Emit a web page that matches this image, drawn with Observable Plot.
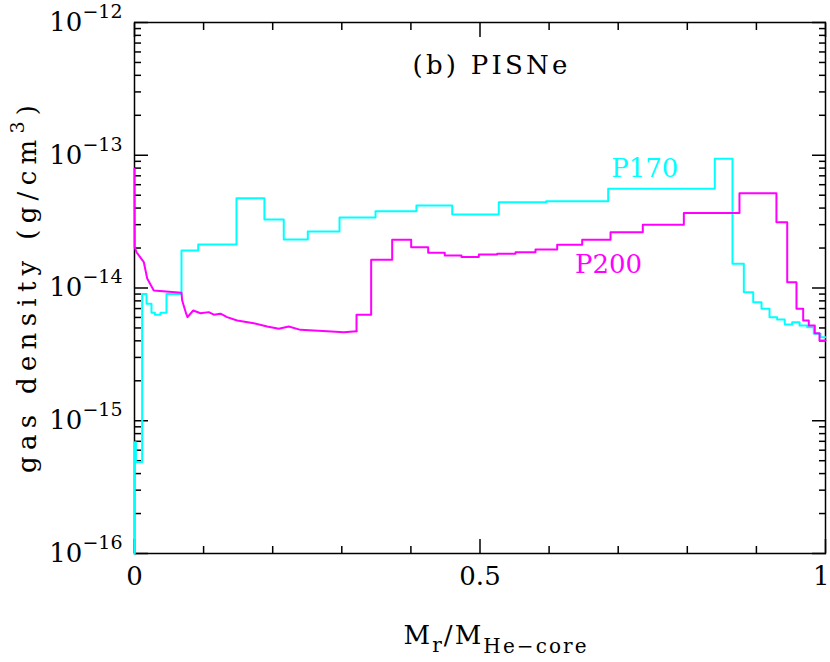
<!DOCTYPE html>
<html>
<head>
<meta charset="utf-8">
<script src="https://cdn.jsdelivr.net/npm/d3@7"></script>
<script src="https://cdn.jsdelivr.net/npm/@observablehq/plot@0.6"></script>
<style>
  html, body { margin: 0; padding: 0; background: #fff; }
</style>
</head>
<body>
<div id="chart"></div>
<script>
// P170 (cyan) — stepwise profile: x = Mr/M_He-core, y = gas density (g/cm^3)
const p170X = [0, 0.0004, 0.002, 0.0111, 0.0174, 0.0246, 0.0294, 0.0376, 0.0463, 0.068, 0.0922, 0.1476, 0.188, 0.216, 0.2508, 0.2967, 0.3488, 0.408, 0.4598, 0.5272, 0.5958, 0.6855, 0.8398, 0.8654, 0.8818, 0.8954, 0.9074, 0.919, 0.930, 0.941, 0.9518, 0.9624, 0.9735, 0.983, 0.9928, 1.0];
const p170Y = [1e-16, 6.9e-16, 4.9e-16, 9.0e-15, 7.6e-15, 6.5e-15, 6.3e-15, 6.5e-15, 9.0e-15, 1.92e-14, 2.13e-14, 4.75e-14, 3.28e-14, 2.32e-14, 2.67e-14, 3.4e-14, 3.79e-14, 4.18e-14, 3.58e-14, 4.43e-14, 4.51e-14, 5.59e-14, 9.4e-14, 1.52e-14, 9.3e-15, 7.8e-15, 6.97e-15, 6.03e-15, 5.79e-15, 5.31e-15, 5.52e-15, 5.22e-15, 5.07e-15, 4.52e-15, 4.26e-15, 4.26e-15];

// P200 (magenta) — inner smooth part
const p200aX = [0, 0.0003, 0.0029, 0.0135, 0.0184, 0.0279, 0.068, 0.069, 0.0748, 0.0767, 0.085, 0.0955, 0.1075, 0.1148, 0.1245, 0.134, 0.1486, 0.1726, 0.192, 0.2088, 0.2233, 0.2402, 0.2595, 0.2789, 0.3029, 0.3213];
const p200aY = [7.9e-14, 2.03e-14, 1.86e-14, 1.565e-14, 1.18e-14, 9.58e-15, 9.2e-15, 8.05e-15, 6.4e-15, 6.03e-15, 6.77e-15, 6.46e-15, 6.58e-15, 6.3e-15, 6.4e-15, 6.03e-15, 5.69e-15, 5.43e-15, 5.13e-15, 4.93e-15, 5.13e-15, 4.84e-15, 4.79e-15, 4.73e-15, 4.65e-15, 4.73e-15];
// P200 (magenta) — outer stepwise part
const p200bX = [0.3213, 0.3425, 0.3729, 0.4004, 0.425, 0.449, 0.4732, 0.4983, 0.5249, 0.5514, 0.5803, 0.6117, 0.6479, 0.6889, 0.7356, 0.795, 0.8755, 0.929, 0.9446, 0.958, 0.9677, 0.9758, 0.9845, 0.9913, 1.0];
const p200bY = [6.3e-15, 1.63e-14, 2.31e-14, 2.03e-14, 1.84e-14, 1.76e-14, 1.71e-14, 1.79e-14, 1.81e-14, 1.86e-14, 1.95e-14, 2.115e-14, 2.31e-14, 2.63e-14, 3.0e-14, 3.68e-14, 5.18e-14, 3.13e-14, 1.107e-14, 6.97e-15, 5.69e-15, 5.22e-15, 4.57e-15, 4.03e-15, 4.03e-15];

// Series labels
const seriesNames = ["P170", "P200"];
const seriesColors = ["#00ffff", "#ff00ff"];
const labelX = [0.7385, 0.686];
const labelY = [7.9e-14, 1.49e-14];

// Ticks
const yMajor = [1e-16, 1e-15, 1e-14, 1e-13, 1e-12];
const yMinor = [];
for (let e = -16; e < -12; e++) for (let m = 2; m <= 9; m++) yMinor.push(m * Math.pow(10, e));
const xMajor = [0, 0.5, 1];
const xMajorLabels = ["0", "0.5", "1"];
const xMinor = [0.1, 0.2, 0.3, 0.4, 0.6, 0.7, 0.8, 0.9];

const titleText = "(b) PISNe";
const yLabelText = "gas density (g/cm";
const xLabelText = "M";

const p170 = p170X.map((x, i) => ({x, y: p170Y[i]}));
const p200a = p200aX.map((x, i) => ({x, y: p200aY[i]}));
const p200b = [p200a[p200a.length - 1]].concat(p200bX.map((x, i) => ({x, y: p200bY[i]})));
const labels = seriesNames.map((name, i) => ({name, x: labelX[i], y: labelY[i], color: seriesColors[i]}));

const tickCommon = {fill: "none", label: null, stroke: "#000", strokeWidth: 1.5};

const svg = Plot.plot({
  width: 830,
  height: 662,
  marginLeft: 134,
  marginRight: 5,
  marginTop: 22,
  marginBottom: 109,
  style: {fontFamily: "'DejaVu Serif', serif", fontSize: "26px", background: "#fff", color: "#000"},
  x: {domain: [0, 1]},
  y: {type: "log", domain: [1e-16, 1e-12]},
  marks: [
    Plot.frame({stroke: "#000", strokeWidth: 1.5}),
    Plot.axisY(yMajor, {...tickCommon, anchor: "left", tickSize: -14}),
    Plot.axisY(yMinor, {...tickCommon, anchor: "left", tickSize: -7}),
    Plot.axisY(yMajor, {...tickCommon, anchor: "right", tickSize: -14}),
    Plot.axisY(yMinor, {...tickCommon, anchor: "right", tickSize: -7}),
    Plot.axisX(xMajor, {...tickCommon, anchor: "bottom", tickSize: -14}),
    Plot.axisX(xMinor, {...tickCommon, anchor: "bottom", tickSize: -7}),
    Plot.axisX(xMajor, {...tickCommon, anchor: "top", tickSize: -14}),
    Plot.axisX(xMinor, {...tickCommon, anchor: "top", tickSize: -7}),
    Plot.axisY(yMajor, {anchor: "left", stroke: "none", tickSize: 0, tickPadding: 12, label: null, fill: "#000",
      tickFormat: d => String(Math.round(Math.log10(d)))}),
    Plot.axisX(xMajor, {anchor: "bottom", stroke: "none", tickSize: 0, tickPadding: 13, label: null, fill: "#000",
      tickFormat: d => xMajorLabels[xMajor.indexOf(d)]}),
    Plot.line(p170, {x: "x", y: "y", curve: "step-after", stroke: seriesColors[0], strokeWidth: 2}),
    Plot.line(p200a, {x: "x", y: "y", stroke: seriesColors[1], strokeWidth: 2}),
    Plot.line(p200b, {x: "x", y: "y", curve: "step-after", stroke: seriesColors[1], strokeWidth: 2}),
    Plot.text(labels, {x: "x", y: "y", text: "name", fill: "color", textAnchor: "middle", fontSize: 26}),
    Plot.text([titleText], {frameAnchor: "top", dx: 10, dy: 33, fontSize: 26, fill: "#000"}),
    Plot.text([yLabelText], {frameAnchor: "left", rotate: -90, dx: -107, dy: 1, fontSize: 26, fill: "#000"}),
    Plot.text([xLabelText], {frameAnchor: "bottom", dx: 15, dy: 90, fontSize: 26, fill: "#000"})
  ]
});

const NS = "http://www.w3.org/2000/svg";
function tspan(parent, txt, attrs) {
  const t = document.createElementNS(NS, "tspan");
  t.textContent = txt;
  if (attrs) for (const k in attrs) t.setAttribute(k, attrs[k]);
  parent.appendChild(t);
  return t;
}

// y tick labels with superscript exponents
svg.querySelectorAll('g[aria-label="y-axis tick label"] text').forEach(t => {
  const e = t.textContent.replace("-", "\u2212");
  t.textContent = "";
  tspan(t, "10");
  tspan(t, e, {dy: "-13", "font-size": "19"});
});

// right-most x tick label kept inside the picture
svg.querySelectorAll('g[aria-label="x-axis tick label"] text').forEach(t => {
  if (t.textContent === "1") { t.setAttribute("text-anchor", "end"); t.setAttribute("dx", "4"); }
});

svg.querySelectorAll("text").forEach(t => {
  const s = t.textContent;
  if (s === titleText) {
    t.setAttribute("textLength", "155");
    t.setAttribute("lengthAdjust", "spacing");
  } else if (s === yLabelText) {
    t.textContent = "";
    tspan(t, yLabelText);
    tspan(t, "3", {dy: "-12", "font-size": "19"});
    tspan(t, ")", {dy: "12"});
    t.setAttribute("text-anchor", "start");
    t.setAttribute("x", "-184");
    t.setAttribute("textLength", "368");
    t.setAttribute("lengthAdjust", "spacing");
  } else if (s === xLabelText) {
    t.textContent = "";
    tspan(t, "M");
    tspan(t, "r", {dy: "8", "font-size": "20"});
    tspan(t, "/M", {dy: "-8"});
    tspan(t, "He\u2212core", {dy: "9", "font-size": "20"});
    t.setAttribute("textLength", "183");
    t.setAttribute("lengthAdjust", "spacing");
  }
});

document.getElementById("chart").appendChild(svg);
</script>
</body>
</html>
